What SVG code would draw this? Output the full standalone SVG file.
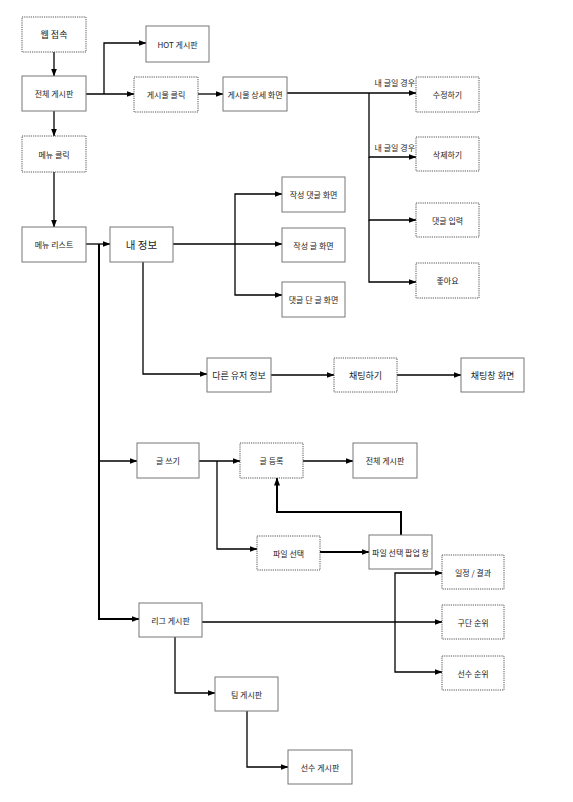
<svg xmlns="http://www.w3.org/2000/svg" width="573" height="802" viewBox="0 0 573 802">
<defs>
<style>
.b{fill:#fff;stroke:#777;stroke-width:1}
.d{fill:#fff;stroke:#555;stroke-width:1;stroke-dasharray:1.2 1}
text{font-family:"Noto Sans CJK KR","Noto Sans",sans-serif;font-size:8px;fill:#222;text-anchor:middle;dominant-baseline:central}
.c path{fill:none;stroke:#000;stroke-width:1.3}
.c path.a{marker-end:url(#ar)}
.c path.t{stroke-width:2}
.lbl{text-anchor:end}
</style>
<marker id="ar" viewBox="0 0 8 6" refX="7.5" refY="3" markerWidth="8" markerHeight="6" markerUnits="userSpaceOnUse" orient="auto">
<path d="M0,0 L8,3 L0,6 Z" fill="#000"/>
</marker>
</defs>
<rect width="573" height="802" fill="#fff"/>
<g class="c" id="connectors">
<path class="a" d="M54,52 V76"/>
<path class="a" d="M86,94 H134"/>
<path class="a" d="M104,94 V43 H146"/>
<path class="a" d="M54,111 V136"/>
<path class="a" d="M198,94 H223"/>
<path class="a" d="M287,93 H416"/>
<path class="a" d="M369,93 V157 H416"/>
<path class="a" d="M369,157 V220 H416"/>
<path class="a" d="M369,220 V282 H416"/>
<path class="a" d="M54,172 V227"/>
<path class="a" d="M86,244 H110"/>
<path class="a" d="M173,244 H282"/>
<path class="a" d="M235,244 V194 H282"/>
<path class="a" d="M235,244 V295 H282"/>
<path class="a" d="M143,262 V374 H207"/>
<path class="a" d="M271,375 H334"/>
<path class="a" d="M397,375 H461"/>
<path class="a t" d="M99,244 V619 H139"/>
<path class="a" d="M99,461 H137"/>
<path class="a" d="M199,461 H240"/>
<path class="a" d="M217,461 V549 H257"/>
<path class="a" d="M303,461 H353"/>
<path class="a t" d="M320,552 H369"/>
<path class="a t" d="M401,535 V512 H277 V478"/>
<path class="a" d="M202,622 H442"/>
<path class="a" d="M395,622 V573 H442"/>
<path class="a" d="M395,622 V672 H442"/>
<path class="a" d="M175,637 V693 H215"/>
<path class="a" d="M247,711 V767 H288"/>
<text class="lbl" x="415" y="82">내 글일 경우</text>
<text class="lbl" x="415" y="147">내 글일 경우</text>
</g>
<g id="n-web"><rect class="d" x="22" y="17" width="64" height="35"/><text x="54" y="34.5" style="font-size:9px">웹 접속</text></g>
<g id="n-all"><rect class="b" x="22" y="76" width="64" height="35"/><text x="54" y="93.5">전체 게시판</text></g>
<g id="n-menuclick"><rect class="d" x="22" y="136" width="64" height="36"/><text x="54" y="154">메뉴 클릭</text></g>
<g id="n-hot"><rect class="b" x="146" y="26" width="63" height="36"/><text x="177.5" y="44">HOT 게시판</text></g>
<g id="n-postclick"><rect class="d" x="134" y="77" width="64" height="35"/><text x="166" y="94.5">게시물 클릭</text></g>
<g id="n-detail"><rect class="b" x="223" y="77" width="64" height="34"/><text x="255" y="94">게시물 상세 화면</text></g>
<g id="n-edit"><rect class="d" x="416" y="77" width="63" height="35"/><text x="447.5" y="94.5">수정하기</text></g>
<g id="n-del"><rect class="d" x="416" y="137" width="63" height="34"/><text x="447.5" y="154">삭제하기</text></g>
<g id="n-comment"><rect class="d" x="416" y="203" width="63" height="34"/><text x="447.5" y="220">댓글 입력</text></g>
<g id="n-like"><rect class="d" x="416" y="263" width="63" height="35"/><text x="447.5" y="280.5">좋아요</text></g>
<g id="n-menulist"><rect class="b" x="22" y="227" width="64" height="35"/><text x="54" y="244.5">메뉴 리스트</text></g>
<g id="n-myinfo"><rect class="b" x="110" y="227" width="63" height="35"/><text x="141.5" y="244.5" style="font-size:10.5px">내 정보</text></g>
<g id="n-mycomments"><rect class="b" x="282" y="177" width="63" height="35"/><text x="313.5" y="194.5">작성 댓글 화면</text></g>
<g id="n-myposts"><rect class="b" x="282" y="228" width="63" height="34"/><text x="313.5" y="245">작성 글 화면</text></g>
<g id="n-commented"><rect class="b" x="282" y="282" width="63" height="35"/><text x="313.5" y="299.5">댓글 단 글 화면</text></g>
<g id="n-other"><rect class="b" x="207" y="358" width="64" height="34"/><text x="239" y="375" style="font-size:9px">다른 유저 정보</text></g>
<g id="n-chat"><rect class="d" x="334" y="358" width="63" height="34"/><text x="365.5" y="375" style="font-size:9px">채팅하기</text></g>
<g id="n-chatwin"><rect class="b" x="461" y="358" width="63" height="34"/><text x="492.5" y="375" style="font-size:9px">채팅창 화면</text></g>
<g id="n-write"><rect class="b" x="137" y="443" width="62" height="35"/><text x="168" y="460.5">글 쓰기</text></g>
<g id="n-register"><rect class="d" x="240" y="443" width="63" height="35"/><text x="271.5" y="460.5">글 등록</text></g>
<g id="n-all2"><rect class="b" x="353" y="443" width="64" height="35"/><text x="385" y="460.5">전체 게시판</text></g>
<g id="n-file"><rect class="d" x="257" y="536" width="63" height="34"/><text x="288.5" y="553">파일 선택</text></g>
<g id="n-popup"><rect class="b" x="369" y="535" width="63" height="34"/><text x="400.5" y="552">파일 선택 팝업 창</text></g>
<g id="n-schedule"><rect class="d" x="442" y="555" width="62" height="34"/><text x="473" y="572">일정 / 결과</text></g>
<g id="n-teamrank"><rect class="d" x="442" y="605" width="62" height="34"/><text x="473" y="622">구단 순위</text></g>
<g id="n-playerrank"><rect class="d" x="442" y="656" width="62" height="34"/><text x="473" y="673">선수 순위</text></g>
<g id="n-league"><rect class="b" x="139" y="603" width="63" height="34"/><text x="170.5" y="620">리그 게시판</text></g>
<g id="n-team"><rect class="b" x="215" y="677" width="63" height="34"/><text x="246.5" y="694">팀 게시판</text></g>
<g id="n-player"><rect class="b" x="288" y="750" width="64" height="34"/><text x="320" y="767">선수 게시판</text></g>
</svg>
